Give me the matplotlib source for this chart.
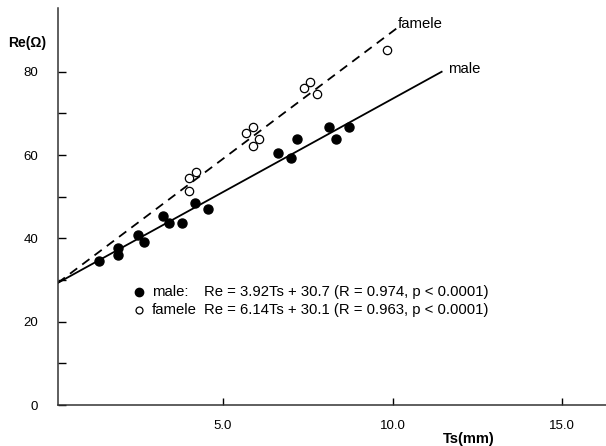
import matplotlib.pyplot as plt
import numpy as np

#############################################################
# Settings - data
#############################################################

# male (filled circles)
male_ts = [1.35, 1.91, 1.91, 2.48, 2.67, 3.23, 3.41, 3.79, 4.18, 4.56,
           6.63, 7.00, 7.19, 8.14, 8.33, 8.71]
male_re = [34.6, 37.6, 36.1, 40.7, 39.2, 45.4, 43.7, 43.7, 48.4, 47.0,
           60.6, 59.2, 63.8, 66.8, 63.8, 66.8]

# famele (open circles)
famele_ts = [3.99, 3.99, 4.19, 5.69, 5.87, 5.87, 6.07, 7.39, 7.58, 7.76, 9.84]
famele_re = [51.4, 54.5, 56.0, 65.2, 66.8, 62.2, 63.8, 76.0, 77.6, 74.6, 85.2]

# regression lines as drawn (start / end)
male_line_ts = [0.12, 11.45]
male_line_re = [29.3, 80.0]
famele_line_ts = [0.12, 10.12]
famele_line_re = [29.3, 90.4]

male_text = "Re = 3.92Ts + 30.7 (R = 0.974, p < 0.0001)"
famele_text = "Re = 6.14Ts + 30.1 (R = 0.963, p < 0.0001)"

x_ticks = [5.0, 10.0, 15.0]
y_ticks = [0, 20, 40, 60, 80]
y_minor = [10, 30, 50, 70]

#############################################################
# Presentation
#############################################################

plt.rcParams['font.family'] = ['Liberation Sans', 'DejaVu Sans']

fig = plt.figure(figsize=(6.06, 4.46), dpi=100)
ax = fig.add_axes([0.0952, 0.0919, 0.9048, 0.8901])

ax.plot(famele_line_ts, famele_line_re, 'k--', lw=1.3, dashes=(5, 3.5))
ax.plot(male_line_ts, male_line_re, 'k-', lw=1.3)

ax.plot(male_ts, male_re, 'o', color='black', ms=6.5, clip_on=False)
ax.plot(famele_ts, famele_re, 'o', mfc='white', mec='black', mew=0.9, ms=6, clip_on=False)

ax.text(10.15, 91.5, "famele", fontsize=10.7, ha='left', va='center')
ax.text(11.65, 80.6, "male", fontsize=10.7, ha='left', va='center')

# legend drawn by hand, as in the chart
ax.plot([2.52], [27.1], 'o', color='black', ms=6)
ax.plot([2.52], [22.8], 'o', mfc='white', mec='black', mew=0.9, ms=5)
ax.text(2.9, 27.1, "male:", fontsize=10.7, va='center')
ax.text(4.43, 27.1, male_text, fontsize=10.7, va='center')
ax.text(2.9, 22.8, "famele", fontsize=10.7, va='center')
ax.text(4.43, 22.8, famele_text, fontsize=10.7, va='center')

ax.set_xlim(0.12, 16.3)
ax.set_ylim(0, 95.3)

ax.set_xticks(x_ticks)
ax.set_xticklabels(["%.1f" % t for t in x_ticks])
ax.set_yticks(y_ticks)
ax.set_yticks(y_minor, minor=True)
ax.tick_params(axis='y', which='both', direction='in', length=6, width=1, pad=14, labelsize=9.5)
ax.tick_params(axis='x', which='both', direction='in', length=5, width=1, pad=11, labelsize=9.5)

for s in ['top', 'right']:
    ax.spines[s].set_visible(False)
for s in ['left', 'bottom']:
    ax.spines[s].set_linewidth(1.1)
    ax.spines[s].set_color('#333333')

fig.text(8 / 606, 1 - 43 / 446, "Re(\u03a9)", fontsize=10, fontweight='bold', va='center', ha='left')
fig.text(443 / 606, 1 - 439 / 446, "Ts(mm)", fontsize=10.5, fontweight='bold', va='center', ha='left')

plt.savefig("out.png", dpi=100)
plt.close(fig)
